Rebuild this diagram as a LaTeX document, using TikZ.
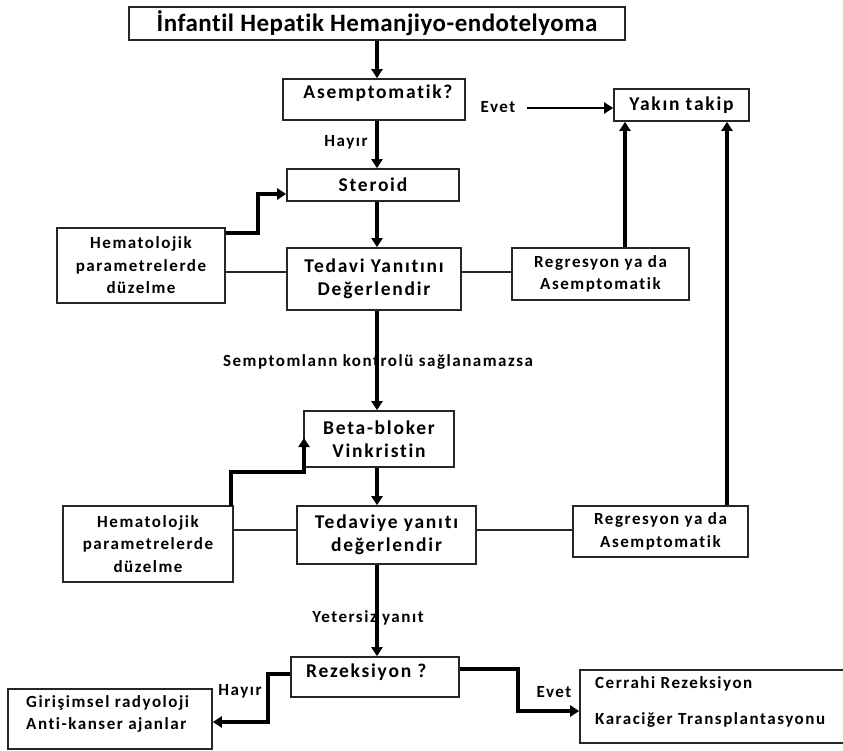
\documentclass[tikz,border=0pt]{standalone}
\usepackage{fontspec}
\setmainfont{Carlito}[Ligatures={NoCommon}]
\usetikzlibrary{arrows.meta,calc}
\tikzset{
  box/.style={draw=black!85, line width=1.7pt, inner sep=0pt, rectangle},
  bigtxt/.style={font=\bfseries\fontsize{19.5}{23}\selectfont\addfontfeature{LetterSpace=9}, align=center},
  smalltxt/.style={font=\bfseries\fontsize{17}{22.5}\selectfont\addfontfeature{LetterSpace=9}, align=center},
  lbl/.style={font=\bfseries\fontsize{17}{20}\selectfont\addfontfeature{LetterSpace=9}, inner sep=0pt},
  arr/.style={line width=3.3pt, line join=miter, -{Triangle[length=9pt,width=11pt]}},
  thinline/.style={line width=1.2pt, draw=black!85},
}
\begin{document}
\begin{tikzpicture}[x=1pt,y=-1pt]
\useasboundingbox (0,0) rectangle (843,750);
\coordinate (spine) at (377,0);
% boxes
\node[box, minimum width=496pt, minimum height=33pt,
      font=\bfseries\fontsize{25}{30}\selectfont\addfontfeature{LetterSpace=2}] (title) at (377,23.5) {İnfantil Hepatik Hemanjiyo-endotelyoma};
\node[box, minimum width=182pt, minimum height=41pt] (asm) at (374,99.5) {};
\node[bigtxt, inner sep=0pt] (asmT) at (378,93) {Asemptomatik?};
\node[box, bigtxt, minimum width=135pt, minimum height=32pt] (yakin) at (681.5,105) {Yakın takip};
\node[box, bigtxt, minimum width=172pt, minimum height=32pt] (ster) at (373,185) {Steroid};
\node[box, bigtxt, minimum width=174pt, minimum height=62pt] (ted1) at (374,279) {Tedavi Yanıtını\\Değerlendir};
\node[box, smalltxt, minimum width=168pt, minimum height=75pt] (hem1) at (141,265.5) {Hematolojik\\parametrelerde\\düzelme};
\node[box, smalltxt, minimum width=177pt, minimum height=52pt] (reg1) at (600.5,274) {Regresyon ya da\\Asemptomatik};
\node[box, bigtxt, minimum width=150pt, minimum height=56pt] (beta) at (379,439) {Beta-bloker\\Vinkristin};
\node[box, smalltxt, minimum width=170pt, minimum height=76pt] (hem2) at (148,544) {Hematolojik\\parametrelerde\\düzelme};
\node[box, bigtxt, minimum width=179pt, minimum height=58pt] (ted2) at (386.5,535) {Tedaviye yanıtı\\değerlendir};
\node[box, smalltxt, minimum width=175pt, minimum height=51pt] (reg2) at (660.5,531.5) {Regresyon ya da\\Asemptomatik};
\node[box, minimum width=168pt, minimum height=40pt] (rez) at (375,677) {};
\node[bigtxt, inner sep=0pt, anchor=west] (rezT) at (306,672) {Rezeksiyon ?};
\node[box, minimum width=204pt, minimum height=60pt] (gir) at (110,719) {};
\node[smalltxt, align=left, inner sep=0pt, anchor=north west] (girT) at (26,695) {Girişimsel radyoloji\\Anti-kanser ajanlar};
\node[box, minimum width=270pt, minimum height=73pt] (cer) at (715,706.5) {};
\node[smalltxt, align=left, inner sep=0pt, anchor=west] (cerT1) at (595,684) {Cerrahi Rezeksiyon};
\node[smalltxt, align=left, inner sep=0pt, anchor=west] (cerT2) at (595,720) {Karaciğer Transplantasyonu};
% labels
\node[lbl] (evet1) at (498,107) {Evet};
\node[lbl] (hayir1) at (346,142) {Hayır};
\node[lbl] (semp) at (378,362) {Semptomlann kontrolü sağlanamazsa};
\node[lbl] (yet) at (368,618) {Yetersiz yanıt};
\node[lbl] (hayir2) at (240,691) {Hayır};
\node[lbl] (evet2) at (554,692) {Evet};
% main spine
\draw[arr] (title.south -| spine) -- (asm.north -| spine);
\draw[arr] (asm.south -| spine) -- (ster.north -| spine);
\draw[arr] (ster.south -| spine) -- (ted1.north -| spine);
\draw[arr] (ted1.south -| spine) -- (beta.north -| spine);
\draw[arr] (beta.south -| spine) -- (ted2.north -| spine);
\draw[arr] (ted2.south -| spine) -- (rez.north -| spine);
% Evet to Yakin takip
\draw[arr, line width=2.8pt] ($(evet1.east)+(11,1)$) -- (yakin.west |- 0,108);
% thin links
\draw[thinline] (hem1.east |- 0,272) -- (ted1.west |- 0,272);
\draw[thinline] (ted1.east |- 0,272) -- (reg1.west |- 0,272);
\draw[thinline] (hem2.east |- 0,530) -- (ted2.west |- 0,530);
\draw[thinline] (ted2.east |- 0,530) -- (reg2.west |- 0,530);
% elbows into treatments
\draw[arr] (hem1.east |- 0,233) -- (258,233) -- (258,194) -- (ster.west |- 0,194);
\draw[arr] (231,506) -- (231,472) -- (304,472) -- (304,438);
% up to Yakin takip
\draw[arr] (reg1.north -| 625,0) -- (yakin.south -| 625,0);
\draw[arr] (reg2.north -| 727,0) -- (yakin.south -| 727,0);
% Rezeksiyon outcomes
\draw[arr] (rez.west |- 0,674) -- (268,674) -- (268,722) -- (gir.east |- 0,722);
\draw[arr] (rez.east |- 0,669) -- (518,669) -- (518,711) -- (cer.west |- 0,711);
\end{tikzpicture}
\end{document}
